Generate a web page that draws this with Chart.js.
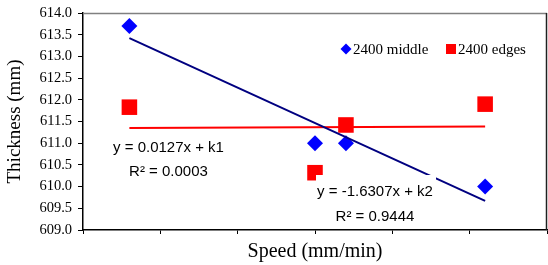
<!DOCTYPE html>
<html>
<head>
<meta charset="utf-8">
<script src="https://cdn.jsdelivr.net/npm/chart.js@4.4.1/dist/chart.umd.min.js"></script>
<style>
  html, body { margin: 0; padding: 0; background: #ffffff; }
  #wrap { width: 548px; height: 265px; position: relative; }
</style>
</head>
<body>
<div id="wrap"><canvas id="c" width="548" height="265"></canvas></div>
<script>
// ---- data ----
const speeds = [0.3, 1.5, 1.7, 2.6];
const middle2400 = [613.7, 611.0, 611.0, 610.0];
const edges2400 = [611.83, 610.32, 611.42, 611.9];
const seriesNames = ['2400 middle', '2400 edges'];
const equationsMiddle = ['y = -1.6307x + k2', 'R\u00B2 = 0.9444'];
const equationsEdges = ['y = 0.0127x + k1', 'R\u00B2 = 0.0003'];
const yMin = 609.0, yMax = 614.0, yStep = 0.5;
const xMin = 0, xMax = 3, xStep = 0.5;

// least squares trend from the points
function trend(xs, ys) {
  const n = xs.length;
  const mx = xs.reduce((a, b) => a + b, 0) / n;
  const my = ys.reduce((a, b) => a + b, 0) / n;
  let sxy = 0, sxx = 0;
  for (let i = 0; i < n; i++) { sxy += (xs[i] - mx) * (ys[i] - my); sxx += (xs[i] - mx) ** 2; }
  const m = sxy / sxx, b = my - m * mx;
  const lo = Math.min(...xs), hi = Math.max(...xs);
  return [{ x: lo, y: m * lo + b }, { x: hi, y: m * hi + b }];
}
const pts = (xs, ys) => xs.map((x, i) => ({ x, y: ys[i] }));

const SERIF = "'Times New Roman', 'Liberation Serif', serif";
const SANS = "Arial, 'Liberation Sans', sans-serif";

const overlay = {
  id: 'overlay',
  beforeDatasetsDraw(chart) {
    const { ctx, chartArea: a } = chart;
    ctx.save();
    ctx.lineWidth = 1.5;
    ctx.strokeStyle = '#808080';
    ctx.beginPath(); ctx.moveTo(a.left, a.top + 0.5); ctx.lineTo(a.right, a.top + 0.5); ctx.stroke();
    ctx.strokeStyle = '#202020';
    ctx.beginPath(); ctx.moveTo(a.right - 0.5, a.top); ctx.lineTo(a.right - 0.5, a.bottom); ctx.stroke();
    ctx.restore();
  },
  afterDatasetsDraw(chart) {
    const { ctx, chartArea: a } = chart;
    ctx.save();
    // trendline labels
    const labels = [
      { lines: equationsEdges, cx: a.left + 85.5, ys: [a.top + 134.5, a.top + 158.5], box: null },
      { lines: equationsMiddle, cx: a.left + 292, ys: [a.top + 178.7, a.top + 203.7], box: [a.left + 233, a.top + 162, 120, 50] }
    ];
    labels.forEach(l => {
      if (l.box) { ctx.fillStyle = '#ffffff'; ctx.fillRect(l.box[0], l.box[1], l.box[2], l.box[3]); }
      ctx.fillStyle = '#000000';
      ctx.font = '15px ' + SANS;
      ctx.textAlign = 'center';
      ctx.textBaseline = 'middle';
      l.lines.forEach((t, i) => ctx.fillText(t, l.cx, l.ys[i]));
    });
    // legend
    const ly = a.top + 36;
    ctx.font = '15px ' + SERIF;
    ctx.textAlign = 'left';
    ctx.textBaseline = 'middle';
    const dx = a.left + 263;
    ctx.fillStyle = '#0000ff';
    ctx.beginPath(); ctx.moveTo(dx, ly - 5.5); ctx.lineTo(dx + 5.5, ly); ctx.lineTo(dx, ly + 5.5); ctx.lineTo(dx - 5.5, ly); ctx.closePath(); ctx.fill();
    ctx.fillStyle = '#000000';
    ctx.fillText(seriesNames[0], dx + 7, ly + 1);
    const sx = a.left + 363;
    ctx.fillStyle = '#ff0000';
    ctx.fillRect(sx, ly - 5, 10, 10);
    ctx.fillStyle = '#000000';
    ctx.fillText(seriesNames[1], sx + 12, ly + 1);
    ctx.restore();
  }
};

new Chart(document.getElementById('c'), {
  type: 'scatter',
  data: {
    datasets: [
      { label: 'trend middle', data: trend(speeds, middle2400), showLine: true, borderColor: '#000080', borderWidth: 2, pointRadius: 0, fill: false },
      { label: 'trend edges', data: trend(speeds, edges2400), showLine: true, borderColor: '#ff0000', borderWidth: 2, pointRadius: 0, fill: false },
      { label: seriesNames[0], data: pts(speeds, middle2400), pointStyle: 'rectRot', pointRadius: 8, pointBackgroundColor: '#0000ff', pointBorderColor: '#0000ff', pointBorderWidth: 0, showLine: false },
      { label: seriesNames[1], data: pts(speeds, edges2400), pointStyle: 'rect', pointRadius: 11, pointBackgroundColor: '#ff0000', pointBorderColor: '#ff0000', pointBorderWidth: 0, showLine: false }
    ]
  },
  options: {
    responsive: false,
    animation: false,
    events: [],
    layout: { autoPadding: false, padding: { top: 13, right: 1, left: 0, bottom: 0 } },
    plugins: { legend: { display: false }, tooltip: { enabled: false }, title: { display: false } },
    scales: {
      x: {
        type: 'linear', min: xMin, max: xMax,
        ticks: { display: false, stepSize: xStep },
        grid: { drawOnChartArea: false, drawTicks: true, tickLength: 4, color: '#000000', lineWidth: 1 },
        border: { color: '#000000', width: 1.5 },
        title: { display: true, text: 'Speed (mm/min)', color: '#000000', font: { family: SERIF, size: 20 }, padding: { top: 4, bottom: 1 } },
        afterFit(s) { s.height = 35; s.paddingLeft = 0; s.paddingRight = 0; }
      },
      y: {
        type: 'linear', min: yMin, max: yMax,
        ticks: { stepSize: yStep, color: '#000000', font: { family: SERIF, size: 14.5 }, padding: 6, callback: v => v.toFixed(1) },
        grid: { drawOnChartArea: false, drawTicks: true, tickLength: 5, color: '#000000', lineWidth: 1 },
        border: { color: '#000000', width: 1.5 },
        title: { display: true, text: 'Thickness (mm)', color: '#000000', font: { family: SERIF, size: 19 }, padding: { top: 4, bottom: 4 } },
        afterFit(s) { s.width = 83; s.paddingTop = 0; s.paddingBottom = 0; }
      }
    }
  },
  plugins: [overlay]
});
</script>
</body>
</html>
